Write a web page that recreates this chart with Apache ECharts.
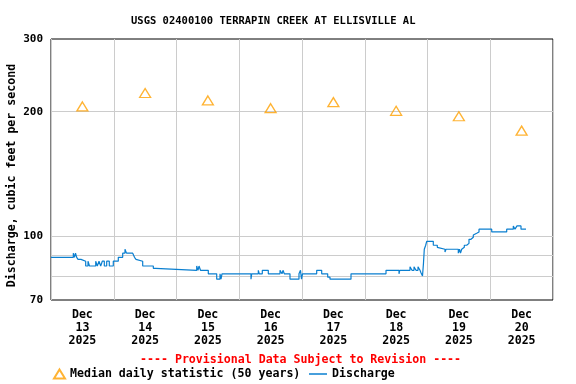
<!DOCTYPE html>
<html>
<head>
<meta charset="utf-8">
<script src="https://cdn.jsdelivr.net/npm/echarts@6/dist/echarts.min.js"></script>
<style>html,body{margin:0;padding:0;background:#fff}#c{width:576px;height:384px}</style>
</head>
<body>
<div id="c"></div>
<script>
const titleText = 'USGS 02400100 TERRAPIN CREEK AT ELLISVILLE AL';
const provisionalText = '---- Provisional Data Subject to Revision ----';
const yAxisName = 'Discharge, cubic feet per second';
const dayLabels = ['Dec\n13\n2025','Dec\n14\n2025','Dec\n15\n2025','Dec\n16\n2025','Dec\n17\n2025','Dec\n18\n2025','Dec\n19\n2025','Dec\n20\n2025'];
const yLabelValues = [70, 100, 200, 300];
const yGridValues = [80, 90, 100, 200];
// hours since Dec 13 2025 00:00
const medianHours = [12, 36, 60, 84, 108, 132, 156, 180];
const medianValues = [206, 222, 213, 204, 211, 201, 195, 180];
const dischargeHours = [0, 8.53, 8.99, 9.37, 9.83, 10.33, 11.47, 13.27, 14.15, 14.72, 17.10, 17.71, 18.36, 19.01, 19.62, 20.39, 21.30, 22.30, 23.83, 25.74, 27.42, 28.30, 28.88, 31.25, 31.94, 32.51, 33.27, 35.07, 39.13, 40.04, 55.73, 56.22, 56.61, 57.18, 60.16, 63.38, 64.64, 65.02, 65.40, 76.49, 76.76, 79.29, 79.67, 80.82, 83.11, 87.59, 88.35, 88.73, 89.23, 91.41, 94.85, 95.42, 95.81, 96.19, 101.62, 103.53, 105.83, 106.71, 114.74, 128.13, 133.10, 133.37, 137.31, 138.07, 138.84, 139.60, 140.37, 141.13, 141.51, 142.09, 142.47, 142.77, 143.31, 143.69, 146.22, 147.75, 148.13, 150.69, 151.08, 155.78, 156.24, 156.62, 157.08, 157.58, 158.08, 158.99, 159.87, 160.64, 161.52, 162.17, 162.82, 163.70, 168.56, 174.29, 176.82, 177.47, 178.23, 179.76, 181.67];
const dischargeValues = [88.8, 90.9, 88.8, 90.9, 88.8, 87.8, 86.9, 84.6, 86.9, 84.6, 86.9, 84.6, 86.9, 84.6, 86.9, 84.6, 86.9, 84.6, 86.9, 88.8, 90.9, 92.9, 90.9, 89.9, 88.8, 87.8, 86.9, 84.6, 83.5, 82.6, 84.6, 82.6, 84.6, 82.6, 81.0, 78.6, 81.0, 78.6, 81.0, 78.6, 81.0, 82.6, 81.0, 82.6, 81.0, 82.6, 81.0, 82.6, 81.0, 78.6, 81.0, 82.6, 78.6, 81.0, 82.6, 81.0, 79.5, 78.6, 81.0, 82.6, 81.0, 82.6, 84.3, 82.6, 84.3, 82.6, 84.3, 82.6, 81.5, 80.0, 86.1, 92.9, 95.0, 97.1, 95.0, 93.9, 92.9, 91.5, 92.9, 90.9, 92.9, 90.9, 92.9, 93.9, 95.0, 96.0, 98.2, 99.3, 100.6, 101.6, 102.3, 103.9, 102.3, 103.9, 105.8, 103.9, 105.8, 103.9, 103.9];

const FONT = 'DejaVu Sans Mono';
const chart = echarts.init(document.getElementById('c'), null, {renderer: 'canvas'});
chart.setOption({
  animation: false,
  backgroundColor: '#fff',
  textStyle: {fontFamily: FONT},
  title: [
    {text: titleText, left: 131, top: 16, padding: 0, textStyle: {fontFamily: FONT, fontSize: 10.5, fontWeight: 'bold', color: '#000'}},
    {text: provisionalText, left: 140, top: 354, padding: 0, textStyle: {fontFamily: FONT, fontSize: 11.6, fontWeight: 'bold', color: '#ff0000'}}
  ],
  grid: {left: 51, right: 23, top: 39, bottom: 84, containLabel: false, outerBoundsMode: 'none',
         show: true, borderColor: '#000', borderWidth: 1, backgroundColor: 'transparent'},
  legend: [
    {data: ['Median daily statistic (50 years)'], left: 53, top: 368, padding: 0, itemWidth: 11, itemHeight: 9, itemGap: 0,
     textStyle: {fontFamily: FONT, fontSize: 11.6, fontWeight: 'bold', color: '#000'}},
    {data: [{name: 'Discharge', icon: 'rect'}], left: 309, top: 368, padding: 0, itemWidth: 18, itemHeight: 1.5,
     textStyle: {fontFamily: FONT, fontSize: 11.6, fontWeight: 'bold', color: '#000'}}
  ],
  xAxis: [
    {type: 'value', min: 0, max: 192, interval: 24,
     axisLine: {show: false}, axisTick: {show: false}, axisLabel: {show: false},
     splitLine: {show: true, lineStyle: {color: '#cccccc', width: 1}}},
    {type: 'category', data: dayLabels, position: 'bottom', boundaryGap: true,
     axisLine: {show: false}, axisTick: {show: false}, splitLine: {show: false},
     axisLabel: {fontFamily: FONT, fontSize: 11.6, fontWeight: 'bold', color: '#000', lineHeight: 13, margin: 8, interval: 0}}
  ],
  yAxis: {
    type: 'log', logBase: 10, min: 70, max: 300,
    name: yAxisName, nameLocation: 'middle', nameGap: 33, nameRotate: 90, nameMoveOverlap: false,
    nameTextStyle: {fontFamily: FONT, fontSize: 11.6, fontWeight: 'bold', color: '#000', padding: [0, 12, 0, 0]},
    axisLine: {show: false},
    axisTick: {show: false, customValues: yGridValues},
    axisLabel: {customValues: yLabelValues, fontFamily: FONT, fontSize: 11, fontWeight: 'bold', color: '#000', margin: 8},
    splitLine: {show: true, lineStyle: {color: '#cccccc', width: 1}}
  },
  series: [
    {name: 'Median daily statistic (50 years)', type: 'scatter', xAxisIndex: 0,
     data: medianHours.map((h, i) => [h, medianValues[i]]),
     symbol: 'triangle', symbolSize: [11, 9],
     itemStyle: {color: 'rgba(255,255,255,0)', borderColor: '#ffa000', borderWidth: 1.3}},
    {name: 'Discharge', type: 'line', xAxisIndex: 0, step: 'end',
     data: dischargeHours.map((h, i) => [h, dischargeValues[i]]),
     symbol: 'none', showSymbol: false,
     lineStyle: {color: '#0a7fd0', width: 1.2}, itemStyle: {color: '#0a7fd0'}}
  ]
});
</script>
</body>
</html>
